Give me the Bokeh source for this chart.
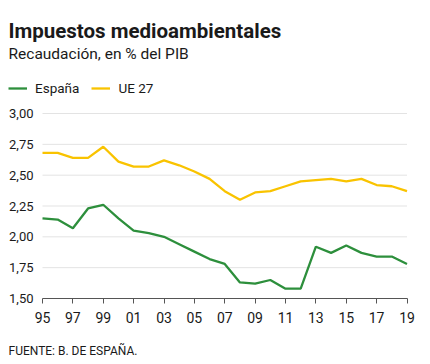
from bokeh.plotting import figure
from bokeh.models import (Range1d, FixedTicker, Legend, LegendItem, Label)
from bokeh.embed import file_html
from bokeh.resources import INLINE

years = list(range(1995, 2020))
espana = [2.15, 2.14, 2.07, 2.23, 2.26, 2.15, 2.05, 2.03, 2.00, 1.94, 1.88,
          1.82, 1.78, 1.63, 1.62, 1.65, 1.58, 1.58, 1.92, 1.87, 1.93, 1.87,
          1.84, 1.84, 1.78]
ue27 = [2.68, 2.68, 2.64, 2.64, 2.73, 2.61, 2.57, 2.57, 2.62, 2.58, 2.53,
        2.47, 2.37, 2.30, 2.36, 2.37, 2.41, 2.45, 2.46, 2.47, 2.45, 2.47,
        2.42, 2.41, 2.37]
x_ticks = list(range(1995, 2020, 2))
x_tick_labels = ["95", "97", "99", "01", "03", "05", "07", "09", "11", "13",
                 "15", "17", "19"]
y_ticks = [1.50, 1.75, 2.00, 2.25, 2.50, 2.75, 3.00]
y_tick_labels = ["1,50", "1,75", "2,00", "2,25", "2,50", "2,75", "3,00"]
series_names = ["España", "UE 27"]

title_text = "Impuestos medioambientales"
subtitle_text = "Recaudación, en % del PIB"
source_text = "FUENTE: B. DE ESPAÑA."

GREEN = "#2d8f3c"
YELLOW = "#f9c300"
FONT = "Roboto"
TXT = "#1a1a1a"
AXIS = "#555555"
GRID = "#e3e3e3"

# ---- canvas geometry (pixels) ----
W, H = 430, 364
PLOT_L, PLOT_R = 42.0, 406.5      # x of first / last year
PLOT_T, PLOT_B = 113.0, 298.0     # y of top / bottom y tick
x0, x1 = years[0], years[-1]
y0, y1 = y_ticks[0], y_ticks[-1]
ppx = (PLOT_R - PLOT_L) / (x1 - x0)
ppy = (PLOT_B - PLOT_T) / (y1 - y0)
xr = Range1d(x0 - PLOT_L / ppx, x1 + (W - PLOT_R) / ppx)
yr = Range1d(y0 - (H - PLOT_B) / ppy, y1 + PLOT_T / ppy)

p = figure(width=W, height=H, output_backend="svg", toolbar_location=None,
           x_range=xr, y_range=yr,
           min_border=0, min_border_left=0, min_border_right=0,
           min_border_top=0, min_border_bottom=0)
p.outline_line_color = None
p.background_fill_color = "white"
p.border_fill_color = "white"
p.xgrid.grid_line_color = None
p.ygrid.grid_line_color = None

# horizontal gridlines across the span of the years
grid_y = y_ticks[1:]
p.segment(x0=[x0] * len(grid_y), y0=grid_y, x1=[x1] * len(grid_y), y1=grid_y,
          line_color=GRID, line_width=1)

l1 = p.line(years, espana, line_color=GREEN, line_width=2.3)
l2 = p.line(years, ue27, line_color=YELLOW, line_width=2.3)

# x axis fixed at the bottom value
xa = p.xaxis[0]
xa.fixed_location = y0
xa.bounds = (x0, x1)
xa.ticker = FixedTicker(ticks=x_ticks)
xa.major_label_overrides = {t: s for t, s in zip(x_ticks, x_tick_labels)}
xa.axis_line_color = AXIS
xa.axis_line_width = 1.2
xa.major_tick_line_color = AXIS
xa.major_tick_out = 5
xa.major_tick_in = 0
xa.minor_tick_line_color = None
xa.major_label_text_font = FONT
xa.major_label_text_font_size = "14px"
xa.major_label_text_color = TXT
xa.major_label_standoff = 8

# y axis fixed at the first year
ya = p.yaxis[0]
ya.fixed_location = x0
ya.ticker = FixedTicker(ticks=y_ticks)
ya.major_label_overrides = {t: s for t, s in zip(y_ticks, y_tick_labels)}
ya.axis_line_color = None
ya.major_tick_line_color = None
ya.minor_tick_line_color = None
ya.major_tick_out = 0
ya.major_tick_in = 0
ya.major_label_text_font = FONT
ya.major_label_text_font_size = "13px"
ya.major_label_text_color = TXT
ya.major_label_standoff = 9

# texts (screen units, from the bottom-left of the canvas)
p.add_layout(Label(x=8, y=H - 30.7, x_units="screen", y_units="screen",
                   text=title_text, text_font=FONT, text_font_style="bold",
                   text_font_size="20.5px", text_color=TXT,
                   text_baseline="alphabetic"))
p.add_layout(Label(x=8, y=H - 53.3, x_units="screen", y_units="screen",
                   text=subtitle_text, text_font=FONT,
                   text_font_size="15.5px", text_color=TXT,
                   text_baseline="alphabetic"))
p.add_layout(Label(x=8, y=H - 350, x_units="screen", y_units="screen",
                   text=source_text, text_font=FONT,
                   text_font_size="12px", text_color=TXT,
                   text_baseline="alphabetic"))

legend = Legend(items=[LegendItem(label=series_names[0], renderers=[l1]),
                       LegendItem(label=series_names[1], renderers=[l2])],
                location=(8, H - 96.3), orientation="horizontal",
                glyph_width=19, glyph_height=16, label_height=16,
                label_standoff=8, spacing=12, padding=0, margin=0,
                border_line_color=None, background_fill_alpha=0,
                label_text_font=FONT, label_text_font_size="13.5px",
                label_text_color=TXT)
p.add_layout(legend, "center")

open("out.html", "w").write(file_html(p, INLINE))
